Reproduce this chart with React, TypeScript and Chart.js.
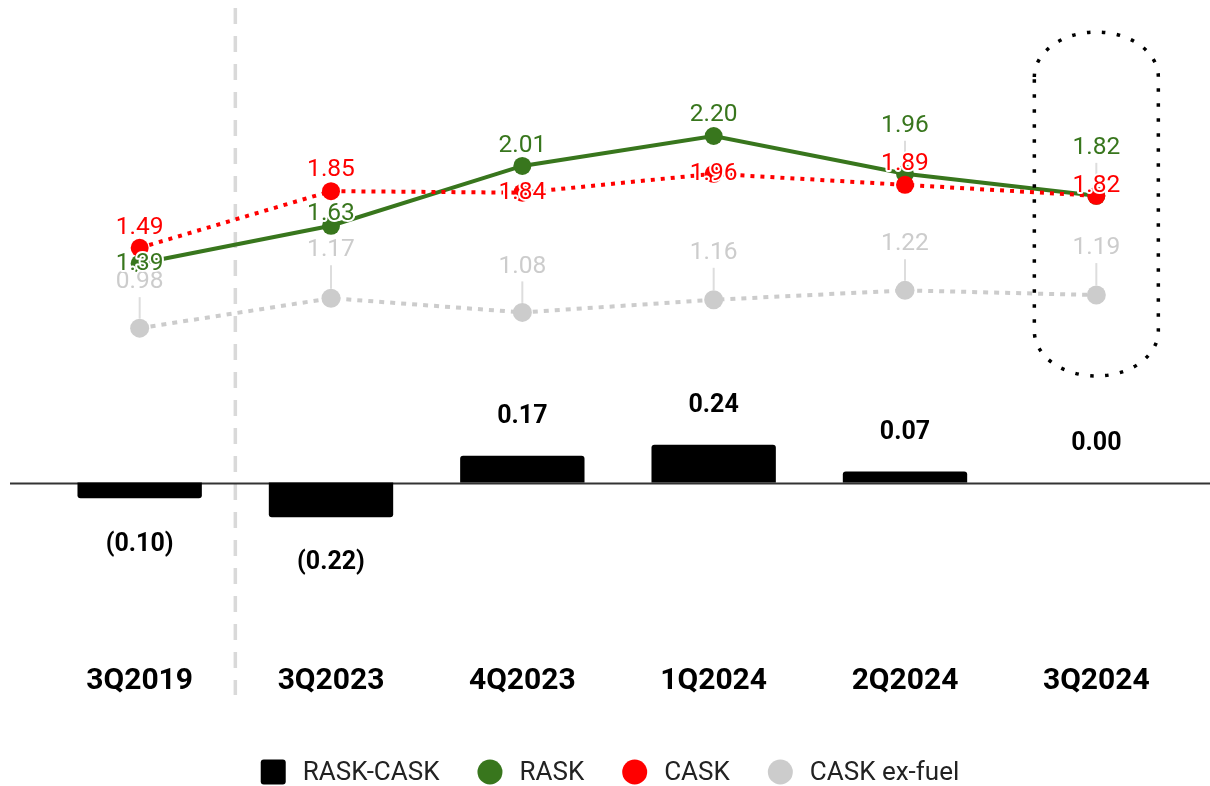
import React, { useEffect, useRef } from "react";
import { Chart, registerables } from "chart.js";

Chart.register(...registerables);

// Quarterly unit revenue / cost figures (cents per ASK)
const quarters = ["3Q2019", "3Q2023", "4Q2023", "1Q2024", "2Q2024", "3Q2024"];
const raskMinusCask = [-0.1, -0.22, 0.17, 0.24, 0.07, 0.0];
const rask = [1.39, 1.63, 2.01, 2.2, 1.96, 1.82];
const cask = [1.49, 1.85, 1.84, 1.96, 1.89, 1.82];
const caskExFuel = [0.98, 1.17, 1.08, 1.16, 1.22, 1.19];

// How far (px) each value label sits above its point
const raskLabelLift = [0, 12, 20, 21, 48, 48];
const caskLabelLift = [20, 21, 0, 0, 21, 10];
const exFuelLabelLift = [46, 48, 46, 47, 46, 47];

const GREEN = "#38761d";
const RED = "#ff0000";
const GRAY = "#cccccc";
const FONT = "Roboto";

const fmtDiff = (v: number) => (v < 0 ? `(${Math.abs(v).toFixed(2)})` : v.toFixed(2));

const decorPlugin = {
  id: "decor",
  beforeDatasetsDraw(chart: any) {
    const { ctx } = chart;
    const x = chart.scales.x;
    const y = chart.scales.y;
    ctx.save();
    // separator between the pre-pandemic quarter and recent quarters
    const sepX = (x.getPixelForValue(0) + x.getPixelForValue(1)) / 2;
    ctx.strokeStyle = "#d9d9d9";
    ctx.lineWidth = 3.5;
    ctx.setLineDash([16, 12]);
    ctx.beginPath();
    ctx.moveTo(sepX, 8);
    ctx.lineTo(sepX, 695);
    ctx.stroke();
    // zero baseline
    ctx.setLineDash([]);
    ctx.strokeStyle = "#333333";
    ctx.lineWidth = 2;
    const y0 = Math.round(y.getPixelForValue(0)) + 0.5;
    ctx.beginPath();
    ctx.moveTo(10, y0);
    ctx.lineTo(chart.width, y0);
    ctx.stroke();
    ctx.restore();
  },
  afterDatasetsDraw(chart: any) {
    const { ctx } = chart;
    const x = chart.scales.x;
    const y = chart.scales.y;
    ctx.save();

    // dotted highlight around the latest quarter
    const cx = x.getPixelForValue(quarters.length - 1);
    const rx = 62;
    const ry = 45;
    const top = 32;
    const bottom = 376;
    ctx.strokeStyle = "#000";
    ctx.lineWidth = 3.5;
    ctx.setLineDash([3.5, 11.5]);
    ctx.beginPath();
    ctx.ellipse(cx, top + ry, rx, ry, 0, Math.PI, 2 * Math.PI);
    ctx.lineTo(cx + rx, bottom - ry);
    ctx.ellipse(cx, bottom - ry, rx, ry, 0, 0, Math.PI);
    ctx.closePath();
    ctx.stroke();
    ctx.setLineDash([]);

    // bar value labels
    ctx.font = `bold 25px ${FONT}`;
    ctx.fillStyle = "#000";
    ctx.textAlign = "center";
    ctx.textBaseline = "middle";
    raskMinusCask.forEach((v, i) => {
      const px = x.getPixelForValue(i);
      const py = y.getPixelForValue(v);
      ctx.fillText(fmtDiff(v), px, v < 0 ? py + 46 : py - 39);
    });

    const series = [
      { data: caskExFuel, lift: exFuelLabelLift, color: GRAY },
      { data: rask, lift: raskLabelLift, color: GREEN },
      { data: cask, lift: caskLabelLift, color: RED },
    ];

    // leader lines for labels lifted well clear of their points
    ctx.strokeStyle = "#dddddd";
    ctx.lineWidth = 2;
    series.forEach((s) => {
      s.data.forEach((v, i) => {
        if (s.lift[i] < 30) return;
        const px = x.getPixelForValue(i);
        const py = y.getPixelForValue(v);
        ctx.beginPath();
        ctx.moveTo(px, py - s.lift[i] + 15);
        ctx.lineTo(px, py - 9.5);
        ctx.stroke();
      });
    });

    // line value labels with a white halo
    ctx.font = `24.5px ${FONT}`;
    ctx.lineJoin = "round";
    series.forEach((s) => {
      s.data.forEach((v, i) => {
        const px = x.getPixelForValue(i);
        const py = y.getPixelForValue(v) - s.lift[i];
        const t = v.toFixed(2);
        ctx.strokeStyle = "#ffffff";
        ctx.lineWidth = 4;
        ctx.strokeText(t, px, py);
        ctx.fillStyle = s.color;
        ctx.fillText(t, px, py);
      });
    });
    ctx.restore();
  },
  afterDraw(chart: any) {
    const { ctx } = chart;
    const items = chart.data.datasets.map((d: any) => ({
      label: d.label,
      color: d.backgroundColor,
      square: d.type === "bar",
    }));
    ctx.save();
    ctx.font = `26px ${FONT}`;
    const marker = 25;
    const gapText = 17;
    const gapItem = 38;
    const widths = items.map((it: any) => marker + gapText + ctx.measureText(it.label).width);
    const total = widths.reduce((a: number, b: number) => a + b, 0) + gapItem * (items.length - 1);
    let lx = chart.width / 2 + 5 - total / 2;
    const ly = 772;
    ctx.textAlign = "left";
    ctx.textBaseline = "middle";
    items.forEach((it: any, i: number) => {
      ctx.fillStyle = it.color;
      ctx.beginPath();
      if (it.square) {
        ctx.roundRect(lx, ly - marker / 2, marker, marker, 3);
      } else {
        ctx.arc(lx + marker / 2, ly, marker / 2, 0, Math.PI * 2);
      }
      ctx.fill();
      ctx.fillStyle = "#222222";
      ctx.fillText(it.label, lx + marker + gapText, ly + 1);
      lx += widths[i] + gapItem;
    });
    ctx.restore();
  },
};

export default function App() {
  const canvasRef = useRef<HTMLCanvasElement | null>(null);

  useEffect(() => {
    document.body.style.margin = "0";
    const canvas = canvasRef.current;
    if (!canvas) return;
    const chart = new Chart(canvas, {
      type: "bar",
      data: {
        labels: quarters,
        datasets: [
          {
            type: "bar",
            label: "RASK-CASK",
            data: raskMinusCask,
            backgroundColor: "#000000",
            borderRadius: 3,
            borderSkipped: "start",
            barPercentage: 0.65,
            categoryPercentage: 1,
            order: 4,
          },
          {
            type: "line",
            label: "RASK",
            data: rask,
            borderColor: GREEN,
            backgroundColor: GREEN,
            borderWidth: 4,
            pointRadius: 9,
            pointHoverRadius: 9,
            pointBorderWidth: 0,
            order: 2,
          },
          {
            type: "line",
            label: "CASK",
            data: cask,
            borderColor: RED,
            backgroundColor: RED,
            borderWidth: 4,
            borderDash: [4, 6],
            pointRadius: 9,
            pointHoverRadius: 9,
            pointBorderWidth: 0,
            order: 1,
          },
          {
            type: "line",
            label: "CASK ex-fuel",
            data: caskExFuel,
            borderColor: GRAY,
            backgroundColor: GRAY,
            borderWidth: 4,
            borderDash: [5, 6],
            pointRadius: 9.5,
            pointHoverRadius: 9.5,
            pointBorderWidth: 0,
            order: 3,
          },
        ] as any,
      },
      options: {
        animation: false,
        responsive: true,
        maintainAspectRatio: false,
        layout: { padding: { left: 44, right: 18, top: 10, bottom: 72 } },
        plugins: { legend: { display: false }, tooltip: { enabled: false } },
        scales: {
          x: {
            grid: { display: false },
            border: { display: false },
            ticks: {
              color: "#000000",
              font: { family: FONT, size: 30, weight: "bold" },
              padding: 15,
            },
          },
          y: { display: false, min: -1, max: 3 },
        },
      },
      plugins: [decorPlugin],
    });
    return () => chart.destroy();
  }, []);

  return (
    <div style={{ width: 1210, height: 786, position: "relative" }}>
      <canvas ref={canvasRef} />
    </div>
  );
}
